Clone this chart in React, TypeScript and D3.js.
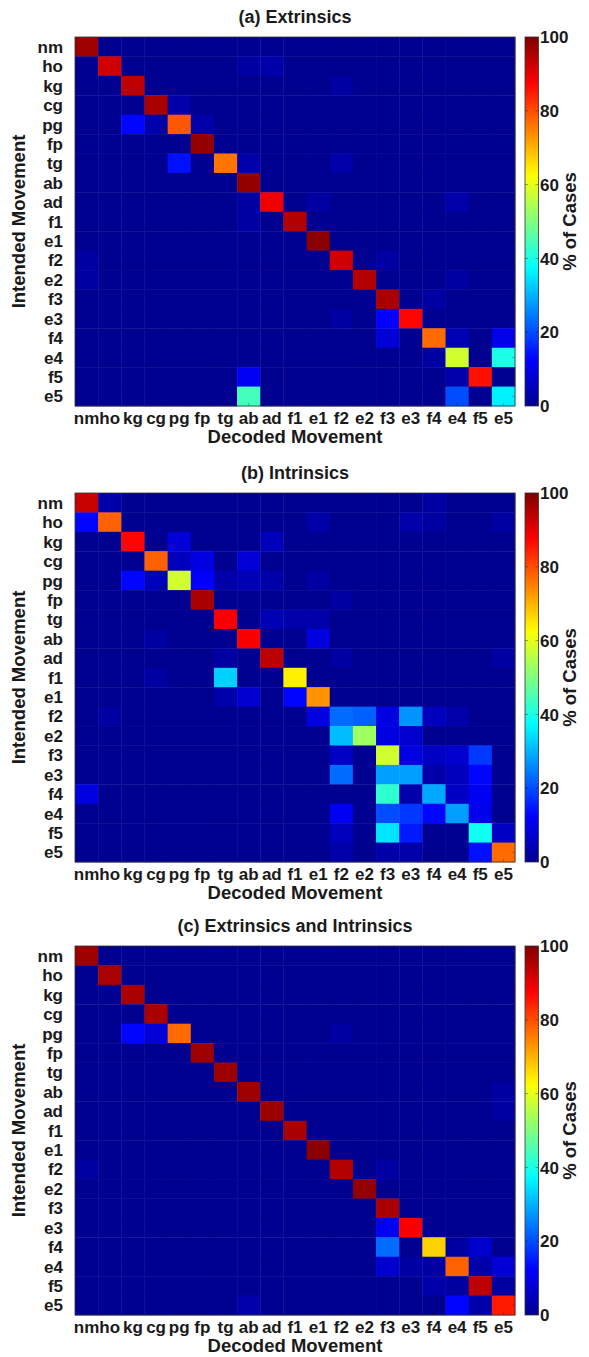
import React from "react";
import * as d3 from "d3";

const movements = ["nm","ho","kg","cg","pg","fp","tg","ab","ad","f1","e1","f2","e2","f3","e3","f4","e4","f5","e5"];
const colorTicks = [0, 20, 40, 60, 80, 100];
const titles = ["(a) Extrinsics", "(b) Intrinsics", "(c) Extrinsics and Intrinsics"];

// rows = intended movement, columns = decoded movement (% of cases)
const extrinsics = [
  [97,0,0,0,0,0,0,0,0,0,0,0,0,0,0,0,0,0,0],
  [0,92,0,0,0,0,0,2,3,0,0,0,0,0,0,0,0,0,0],
  [0,0,94,0,0,0,0,0,0,0,0,2,0,0,0,0,0,0,0],
  [0,0,0,96,3,0,0,0,0,0,0,0,0,0,0,0,0,0,0],
  [0,0,13,3,79,3,0,0,0,0,0,0,0,0,0,0,0,0,0],
  [0,0,0,0,0,98,0,0,0,0,0,0,0,0,0,0,0,0,0],
  [0,0,0,0,14,0,76,3,0,0,0,3,0,0,0,0,0,0,0],
  [0,0,0,0,0,0,0,98,0,0,0,0,0,0,0,0,0,0,0],
  [0,0,0,0,0,0,0,2,89,0,2,0,0,0,0,0,3,0,0],
  [0,0,0,0,0,0,0,2,0,95,0,0,0,0,0,0,0,0,0],
  [0,0,0,0,0,0,0,0,0,0,99,0,0,0,0,0,0,0,0],
  [2,0,0,0,0,0,0,0,0,0,0,92,0,2,0,0,0,0,0],
  [2,0,0,0,0,0,0,0,0,0,0,0,95,0,0,0,2,0,0],
  [0,0,0,0,0,0,0,0,0,0,0,0,0,96,0,2,0,0,0],
  [0,0,0,0,0,0,0,0,0,0,0,2,0,12,87,0,0,0,0],
  [0,0,0,0,0,0,0,0,0,0,0,0,0,8,0,77,4,0,10],
  [0,0,0,0,0,0,0,0,0,0,0,0,0,0,0,2,58,0,40],
  [0,0,0,0,0,0,0,11,0,0,0,0,0,0,0,0,3,86,0],
  [0,0,0,0,0,0,0,44,0,0,0,0,0,0,0,0,20,0,36],
];

const intrinsics = [
  [93,3,0,0,0,0,0,0,0,0,0,0,0,0,0,2,0,0,0],
  [13,78,0,0,0,0,0,0,0,0,3,0,0,0,3,2,0,0,2],
  [0,0,87,0,8,0,0,0,5,0,0,0,0,0,0,0,0,0,0],
  [0,0,0,78,5,9,0,8,0,0,0,0,0,0,0,0,0,0,0],
  [0,0,13,5,58,12,3,4,3,0,2,0,0,0,0,0,0,0,0],
  [0,0,0,0,0,96,0,0,0,0,0,2,0,0,0,0,0,0,0],
  [0,0,0,0,0,0,88,0,4,3,3,0,0,0,0,0,0,0,0],
  [0,0,0,2,0,0,0,88,0,0,9,0,0,0,0,0,0,0,0],
  [0,0,0,0,0,0,2,0,94,0,0,2,0,0,0,0,0,0,2],
  [0,0,0,2,0,0,33,0,0,64,0,0,0,0,0,0,0,0,0],
  [0,0,0,0,0,0,3,7,0,13,73,0,0,0,0,0,0,0,0],
  [0,2,0,0,0,0,0,0,0,0,9,23,22,9,27,5,3,0,0],
  [0,0,0,0,0,0,0,0,0,0,0,31,53,9,7,0,0,0,0],
  [0,0,0,0,0,0,0,0,0,0,0,6,0,58,9,6,7,18,0],
  [0,0,0,0,0,0,0,0,0,0,0,23,0,28,28,3,5,13,0],
  [9,0,0,0,0,0,0,0,0,0,0,0,0,42,3,29,6,11,0],
  [0,0,0,0,0,0,0,0,0,0,0,11,0,20,18,13,28,10,0],
  [0,0,0,0,0,0,0,0,0,0,0,5,0,35,15,0,0,39,6],
  [0,0,0,0,0,0,0,0,0,0,0,3,0,3,3,0,0,14,77],
];

const combined = [
  [97,0,0,0,0,0,0,0,0,0,0,0,0,0,0,0,0,0,0],
  [0,96,0,0,0,0,0,0,0,0,0,0,0,0,0,0,0,0,0],
  [0,0,96,0,0,0,0,0,0,0,0,0,0,0,0,0,0,0,0],
  [0,0,0,96,0,0,0,0,0,0,0,0,0,0,0,0,0,0,0],
  [0,0,13,8,77,0,0,0,0,0,0,2,0,0,0,0,0,0,0],
  [0,0,0,0,0,97,0,0,0,0,0,0,0,0,0,0,0,0,0],
  [0,0,0,0,0,0,97,0,0,0,0,0,0,0,0,0,0,0,0],
  [0,0,0,0,0,0,0,97,0,0,0,0,0,0,0,0,0,0,2],
  [0,0,0,0,0,0,0,0,97,0,0,0,0,0,0,0,0,0,2],
  [0,0,0,0,0,0,0,0,0,96,0,0,0,0,0,0,0,0,0],
  [0,0,0,0,0,0,0,0,0,0,99,0,0,0,0,0,0,0,0],
  [2,0,0,0,0,0,0,0,0,0,0,95,0,2,0,0,0,0,0],
  [0,0,0,0,0,0,0,0,0,0,0,0,98,0,0,0,0,0,0],
  [0,0,0,0,0,0,0,0,0,0,0,0,0,96,0,0,0,0,0],
  [0,0,0,0,0,0,0,0,0,0,0,0,0,11,88,0,0,0,0],
  [0,0,0,0,0,0,0,0,0,0,0,0,0,23,0,67,2,7,0],
  [0,0,0,0,0,0,0,0,0,0,0,0,0,7,2,2,78,3,8],
  [0,0,0,0,0,0,0,0,0,0,0,0,0,0,0,3,2,94,2],
  [0,0,0,0,0,0,0,3,0,0,0,0,0,0,0,0,13,3,85],
];

const matrices = [extrinsics, intrinsics, combined];

const W = 589;
const H = 1357;
const panelTops = [37, 493, 946];
const plotLeft = 75;
const plotW = 440;
const plotH = 369;
const cbX = 525;
const cbW = 13.5;
const FONT = "'Liberation Sans', Arial, Helvetica, sans-serif";
const TXT = "#1a1a1a";

const jet = d3
  .scaleLinear<string>()
  .domain([0, 12.5, 37.5, 62.5, 87.5, 100])
  .range(["#000090", "#0000ff", "#00ffff", "#ffff00", "#ff0000", "#800000"])
  .interpolate(d3.interpolateRgb)
  .clamp(true);

function Panel({ idx }: { idx: number }) {
  const top = panelTops[idx];
  const data = matrices[idx];
  const x = d3.scaleBand<string>().domain(movements).range([plotLeft, plotLeft + plotW]);
  const y = d3.scaleBand<string>().domain(movements).range([top, top + plotH]);
  const cb = d3.scaleLinear().domain([0, 100]).range([top + plotH, top]);
  const gradId = `jet-grad-${idx}`;
  const stops = d3.range(0, 101, 2);
  const bottom = top + plotH;
  return (
    <g>
      <defs>
        <linearGradient id={gradId} x1="0" y1="1" x2="0" y2="0">
          {stops.map((s) => (
            <stop key={s} offset={`${s}%`} stopColor={jet(s)} />
          ))}
        </linearGradient>
      </defs>
      <text x={plotLeft + plotW / 2} y={top - 14} textAnchor="middle" fontFamily={FONT} fontWeight="bold" fontSize={18} fill={TXT}>
        {titles[idx]}
      </text>
      {data.map((row, ri) =>
        row.map((v, ci) => (
          <rect
            key={`${ri}-${ci}`}
            x={x(movements[ci])!}
            y={y(movements[ri])!}
            width={x.bandwidth() + 0.4}
            height={y.bandwidth() + 0.4}
            fill={jet(v)}
          />
        ))
      )}
      {movements.map((m) => {
        const cx = x(m)! + x.bandwidth() / 2;
        const cy = y(m)! + y.bandwidth() / 2;
        return (
          <g key={m} stroke="#000" strokeOpacity={0.35} strokeWidth={0.7}>
            <line x1={cx} x2={cx} y1={bottom} y2={bottom - 3} />
            <line x1={cx} x2={cx} y1={top} y2={top + 3} />
            <line x1={plotLeft} x2={plotLeft + 3} y1={cy} y2={cy} />
            <line x1={plotLeft + plotW} x2={plotLeft + plotW - 3} y1={cy} y2={cy} />
          </g>
        );
      })}
      <rect x={plotLeft} y={top} width={plotW} height={plotH} fill="none" stroke="#333" strokeWidth={0.8} />
      {movements.map((m) => (
        <text
          key={`yl-${m}`}
          x={63}
          y={y(m)! + y.bandwidth() / 2}
          dy="0.36em"
          textAnchor="end"
          fontFamily={FONT}
          fontWeight="bold"
          fontSize={17}
          fill={TXT}
        >
          {m}
        </text>
      ))}
      {movements.map((m) => (
        <text
          key={`xl-${m}`}
          x={x(m)! + x.bandwidth() / 2}
          y={bottom + 18}
          textAnchor="middle"
          fontFamily={FONT}
          fontWeight="bold"
          fontSize={17}
          fill={TXT}
        >
          {m}
        </text>
      ))}
      <text x={plotLeft + plotW / 2} y={bottom + 37} textAnchor="middle" fontFamily={FONT} fontWeight="bold" fontSize={18.5} fill={TXT}>
        Decoded Movement
      </text>
      <text
        transform={`translate(25,${top + plotH / 2}) rotate(-90)`}
        textAnchor="middle"
        fontFamily={FONT}
        fontWeight="bold"
        fontSize={18.5}
        fill={TXT}
      >
        Intended Movement
      </text>
      <rect x={cbX} y={top} width={cbW} height={plotH} fill={`url(#${gradId})`} stroke="#333" strokeWidth={0.8} />
      {colorTicks.map((t) => (
        <g key={`ct-${t}`}>
          {t > 0 && t < 100 && (
            <g stroke="#000" strokeOpacity={0.5} strokeWidth={0.7}>
              <line x1={cbX} x2={cbX + 3} y1={cb(t)} y2={cb(t)} />
              <line x1={cbX + cbW} x2={cbX + cbW - 3} y1={cb(t)} y2={cb(t)} />
            </g>
          )}
          <text x={cbX + cbW + 1.5} y={cb(t)} dy="0.36em" fontFamily={FONT} fontWeight="bold" fontSize={17} fill={TXT}>
            {t}
          </text>
        </g>
      ))}
      <text
        transform={`translate(576,${top + plotH / 2}) rotate(-90)`}
        textAnchor="middle"
        fontFamily={FONT}
        fontWeight="bold"
        fontSize={18.5}
        fill={TXT}
      >
        % of Cases
      </text>
    </g>
  );
}

export default function App() {
  return (
    <svg
      width={W}
      height={H}
      viewBox={`0 0 ${W} ${H}`}
      style={{ position: "absolute", left: 0, top: 0, background: "#fff" }}
    >
      <rect x={0} y={0} width={W} height={H} fill="#fff" />
      {[0, 1, 2].map((i) => (
        <Panel key={i} idx={i} />
      ))}
    </svg>
  );
}
